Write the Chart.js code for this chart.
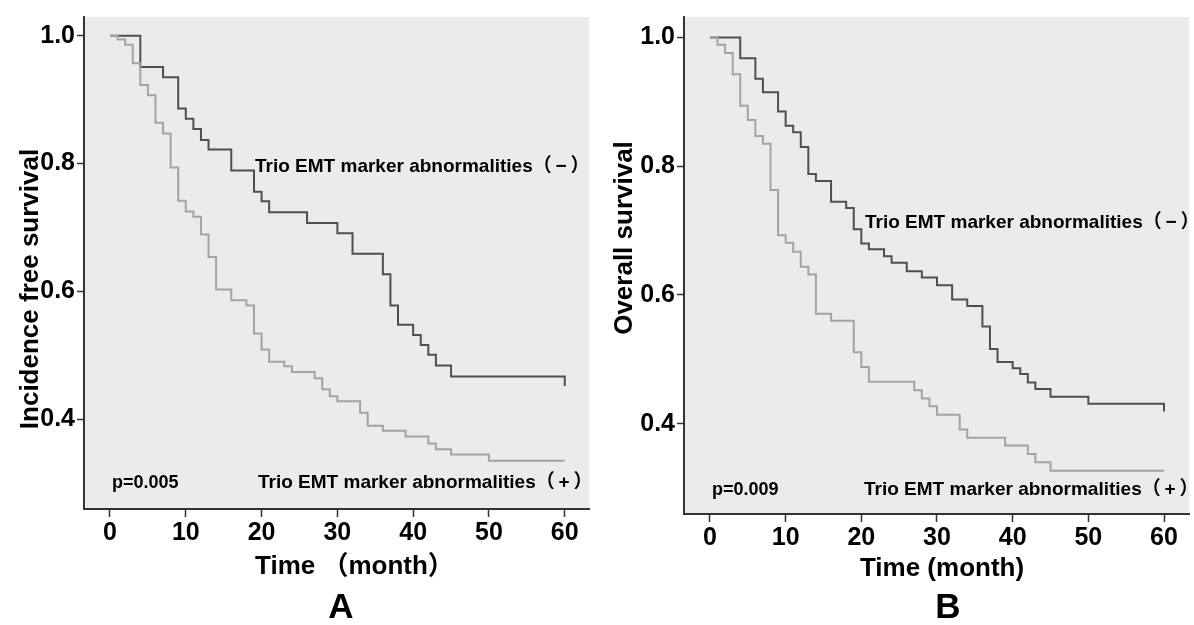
<!DOCTYPE html>
<html><head><meta charset="utf-8">
<script src="https://cdn.jsdelivr.net/npm/chart.js@4.4.1/dist/chart.umd.min.js"></script>
<style>
html,body{margin:0;padding:0;background:#fff;}
#wrap{position:relative;width:1194px;height:625px;overflow:hidden;background:#fff;}
.box{position:absolute;top:0;width:597px;height:625px;}
</style></head><body>
<div id="wrap">
<div class="box" style="left:0"><canvas id="cA" width="597" height="625"></canvas></div>
<div class="box" style="left:597px"><canvas id="cB" width="597" height="625"></canvas></div>
</div>
<script>
// ---- data ----
const timeTicks = [0, 10, 20, 30, 40, 50, 60];
const survivalTicks = [0.4, 0.6, 0.8, 1.0];

// Panel A: incidence free survival
const aNegTime = [0, 4, 7, 9, 10, 11, 12, 13, 16, 19, 20, 21, 26, 30, 32, 36, 37, 38, 40, 41, 42, 43, 45, 60];
const aNegSurv = [1.0, 0.951, 0.935, 0.886, 0.870, 0.854, 0.837, 0.822, 0.789, 0.756, 0.741, 0.724, 0.707, 0.691, 0.659, 0.627, 0.578, 0.548, 0.532, 0.516, 0.501, 0.484, 0.467, 0.452];
const aPosTime = [0, 1, 2, 3, 4, 5, 6, 7, 8, 9, 10, 11, 12, 13, 14, 16, 18, 19, 20, 21, 23, 24, 27, 28, 29, 30, 33, 34, 36, 39, 42, 43, 45, 50, 60];
const aPosSurv = [1.0, 0.994, 0.986, 0.957, 0.923, 0.907, 0.864, 0.847, 0.794, 0.742, 0.725, 0.717, 0.689, 0.654, 0.603, 0.586, 0.578, 0.534, 0.509, 0.490, 0.483, 0.474, 0.464, 0.447, 0.436, 0.428, 0.410, 0.390, 0.382, 0.373, 0.362, 0.353, 0.345, 0.335, 0.335];

// Panel B: overall survival
const bNegTime = [0, 4, 6, 7, 9, 10, 11, 12, 13, 14, 16, 18, 19, 20, 21, 23, 24, 26, 28, 30, 32, 34, 36, 37, 38, 40, 41, 42, 43, 45, 50, 60];
const bNegSurv = [1.0, 0.968, 0.936, 0.915, 0.885, 0.863, 0.853, 0.830, 0.788, 0.777, 0.745, 0.735, 0.702, 0.680, 0.671, 0.660, 0.650, 0.637, 0.627, 0.615, 0.593, 0.583, 0.551, 0.516, 0.496, 0.486, 0.477, 0.464, 0.454, 0.442, 0.431, 0.419];
const bPosTime = [0, 1, 2, 3, 4, 5, 6, 7, 8, 9, 10, 11, 12, 13, 14, 16, 19, 20, 21, 27, 28, 29, 30, 33, 34, 39, 42, 43, 45, 60];
const bPosSurv = [1.0, 0.989, 0.976, 0.943, 0.894, 0.872, 0.847, 0.835, 0.763, 0.693, 0.681, 0.667, 0.644, 0.632, 0.571, 0.560, 0.511, 0.488, 0.465, 0.452, 0.439, 0.427, 0.414, 0.391, 0.378, 0.366, 0.353, 0.340, 0.327, 0.327];

const negLabel = 'Trio EMT marker abnormalities（\u2009−\u2009）';
const posLabel = 'Trio EMT marker abnormalities（\u2009+\u2009）';

// ---- drawing ----
const FONT = "'Liberation Sans', Arial, 'Noto Sans CJK SC', sans-serif";
const zip = (t, s) => t.map((v, i) => ({x: v, y: s[i]}));

const deco = {
  id: 'deco',
  beforeDraw(chart) {
    const {ctx, chartArea: a} = chart;
    ctx.save();
    ctx.fillStyle = '#ebebeb';
    ctx.fillRect(a.left, a.top, a.right - a.left, a.bottom - a.top);
    ctx.restore();
  },
  afterDraw(chart, args, opts) {
    const ctx = chart.ctx;
    for (const t of opts.texts) {
      ctx.save();
      ctx.fillStyle = '#000';
      ctx.font = 'bold ' + t.size + 'px ' + FONT;
      ctx.textAlign = t.align || 'left';
      ctx.textBaseline = 'alphabetic';
      ctx.translate(t.x, t.y);
      if (t.rot) ctx.rotate(t.rot);
      ctx.fillText(t.text, 0, 0);
      ctx.restore();
    }
  }
};

function makeChart(id, c) {
  return new Chart(document.getElementById(id), {
    type: 'line',
    data: {datasets: [
      {data: zip(c.posT, c.posS), borderColor: '#a3a3a3', borderWidth: 2, stepped: true, pointRadius: 0, fill: false, tension: 0},
      {data: zip(c.negT, c.negS), borderColor: '#4f4f4f', borderWidth: 2, stepped: true, pointRadius: 0, fill: false, tension: 0}
    ]},
    options: {
      responsive: false, animation: false, devicePixelRatio: 1,
      layout: {padding: {left: 0, top: c.padTop, right: c.padRight, bottom: 0}},
      plugins: {legend: {display: false}, tooltip: {enabled: false}, deco: {texts: c.texts}},
      scales: {
        x: {
          type: 'linear', min: c.xMin, max: c.xMax,
          afterBuildTicks: s => { s.ticks = timeTicks.map(v => ({value: v})); },
          afterFit: s => { s.height = c.xH; },
          grid: {display: true, drawOnChartArea: false, drawTicks: true, tickLength: 8, tickColor: '#333', tickWidth: 1.5},
          border: {display: true, color: '#333', width: 2},
          ticks: {color: '#000', font: {family: FONT, size: 25, weight: 'bold'}, padding: 1, maxRotation: 0, autoSkip: false,
                  callback: v => String(v)}
        },
        y: {
          type: 'linear', min: c.yMin, max: c.yMax,
          afterBuildTicks: s => { s.ticks = survivalTicks.map(v => ({value: v})); },
          afterFit: s => { s.width = c.yW; },
          grid: {display: true, drawOnChartArea: false, drawTicks: true, tickLength: 7, tickColor: '#333', tickWidth: 1.5},
          border: {display: true, color: '#333', width: 2},
          ticks: {color: '#000', font: {family: FONT, size: 25, weight: 'bold'}, padding: 2, autoSkip: false,
                  callback: v => Number(v).toFixed(1)}
        }
      }
    },
    plugins: [deco]
  });
}

makeChart('cA', {
  posT: aPosTime, posS: aPosSurv, negT: aNegTime, negS: aNegSurv,
  xMin: -3.43, xMax: 63.2, yMin: 0.2596, yMax: 1.0293,
  padTop: 10, padRight: 8, yW: 84, xH: 116,
  texts: [
    {text: negLabel, x: 255, y: 172, size: 19},
    {text: 'p=0.005', x: 112, y: 488, size: 18},
    {text: posLabel, x: 258, y: 488, size: 19},
    {text: 'Incidence free survival', x: 38, y: 289, size: 26, align: 'center', rot: -Math.PI / 2},
    {text: 'Time （month）', x: 255, y: 574, size: 26},
    {text: 'A', x: 341, y: 618, size: 35, align: 'center'}
  ]
});

makeChart('cB', {
  posT: bPosTime, posS: bPosSurv, negT: bNegTime, negS: bNegSurv,
  xMin: -3.43, xMax: 63.3, yMin: 0.2596, yMax: 1.032,
  padTop: 13, padRight: 5, yW: 87, xH: 111,
  texts: [
    {text: negLabel, x: 268, y: 228, size: 19},
    {text: 'p=0.009', x: 115, y: 495, size: 18},
    {text: posLabel, x: 267, y: 495, size: 19},
    {text: 'Overall survival', x: 35, y: 238, size: 26, align: 'center', rot: -Math.PI / 2},
    {text: 'Time (month)', x: 345, y: 576, size: 26, align: 'center'},
    {text: 'B', x: 351, y: 618, size: 35, align: 'center'}
  ]
});
</script>
</body></html>
